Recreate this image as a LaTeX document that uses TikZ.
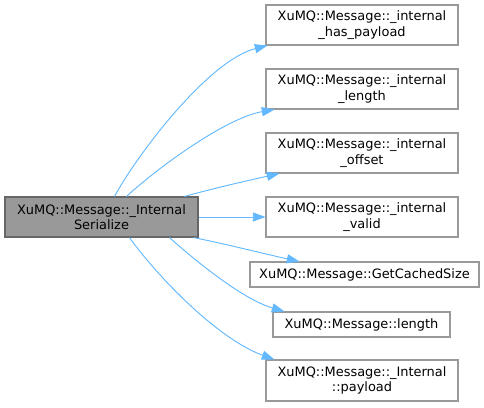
\documentclass[tikz,border=0pt]{standalone}
\usepackage{fontspec}
\setmainfont{DejaVu Sans}
\usetikzlibrary{calc,arrows.meta}
\definecolor{edgec}{HTML}{63B8FF}
\definecolor{mainfill}{HTML}{999999}
\definecolor{mainborder}{HTML}{666666}
\definecolor{boxborder}{HTML}{999999}
\begin{document}
\begin{tikzpicture}[x=0.75pt,y=-0.75pt,
  box/.style={draw=boxborder,fill=white,line width=0.8pt,inner sep=0pt,align=center,
    font=\fontsize{9.7}{11.6}\selectfont,text=black},
  mainbox/.style={box,draw=mainborder,fill=mainfill},
  conn/.style={draw=edgec,line width=0.7pt,-{Triangle[length=9.5pt,width=6.8pt]}}]
\useasboundingbox (0,0) rectangle (484,407);
\node[mainbox,minimum width=193*0.75pt,minimum height=40*0.75pt] (main) at (101.5,217) {XuMQ::Message::\_Internal\\Serialize};
\node[box,minimum width=192*0.75pt,minimum height=40*0.75pt] (hp) at (362,25) {XuMQ::Message::\_internal\\\_has\_payload};
\node[box,minimum width=192*0.75pt,minimum height=40*0.75pt] (il) at (362,89) {XuMQ::Message::\_internal\\\_length};
\node[box,minimum width=192*0.75pt,minimum height=40*0.75pt] (io) at (362,153) {XuMQ::Message::\_internal\\\_offset};
\node[box,minimum width=192*0.75pt,minimum height=40*0.75pt] (iv) at (362,217) {XuMQ::Message::\_internal\\\_valid};
\node[box,minimum width=229*0.75pt,minimum height=25*0.75pt] (gcs) at (364.5,274.5) {XuMQ::Message::GetCachedSize};
\node[box,minimum width=177*0.75pt,minimum height=25*0.75pt] (len) at (361.5,324.5) {XuMQ::Message::length};
\node[box,minimum width=192*0.75pt,minimum height=41*0.75pt] (pl) at (362,380.5) {XuMQ::Message::\_Internal\\::payload};
\draw[conn] ($(main.north west)+(110,0)$) .. controls (140,150) and (210,60) .. ($(hp.south west)+(2,0)$);
\draw[conn] ($(main.north west)+(122,0)$) .. controls (155,170) and (225,118) .. ($(il.south west)+(9,0)$);
\draw[conn] ($(main.north west)+(180,0)$) .. controls (215,188) and (250,180) .. ($(io.south west)+(14,0)$);
\draw[conn] (main.east) -- (iv.west);
\draw[conn] ($(main.south east)+(-5,0)$) .. controls (230,245) and (265,254) .. ($(gcs.north west)+(50,0)$);
\draw[conn] ($(main.south west)+(165,0)$) .. controls (200,265) and (245,300) .. ($(len.north west)+(12,0)$);
\draw[conn] ($(main.south west)+(125,0)$) .. controls (160,280) and (220,340) .. ($(pl.north west)+(9,0)$);
\end{tikzpicture}
\end{document}
